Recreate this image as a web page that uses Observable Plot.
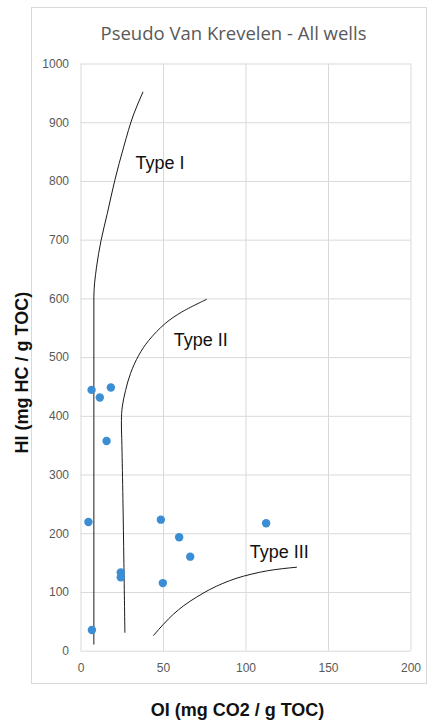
<!DOCTYPE html>
<html>
<head>
<meta charset="utf-8">
<script src="https://cdn.jsdelivr.net/npm/d3@7"></script>
<script src="https://cdn.jsdelivr.net/npm/@observablehq/plot@0.6"></script>
<style>
  html, body { margin: 0; padding: 0; background: #ffffff; }
  #chart { position: relative; width: 435px; height: 725px; overflow: hidden; font-family: "Liberation Sans", Arial, sans-serif; }
  #frame { position: absolute; left: 31px; top: 7px; width: 396px; height: 677px; border: 1px solid #d9d9d9; box-sizing: border-box; }
  #title { position: absolute; left: 31px; width: 396px; top: 20px; padding-left: 9px; box-sizing: border-box; text-align: center;
           font-family: "Open Sans", sans-serif; font-size: 18.5px; color: #595959; line-height: 26px; }
  #chart svg { position: absolute; left: 0; top: 0; }
</style>
</head>
<body>
<div id="chart">
  <div id="frame"></div>
  <div id="title">Pseudo Van Krevelen - All wells</div>
</div>
<script>
// Well samples: oxygen index (OI) and hydrogen index (HI)
const wellOI = [6.4, 11.4, 18.1, 15.5, 4.5, 48.4, 59.5, 66.2, 24.1, 24.1, 49.6, 6.6, 112.2];
const wellHI = [445, 432, 449, 358, 220, 224, 194, 161, 134, 126, 116, 36, 218];

// Kerogen type evolution paths
const typeIOI = [7.8, 7.8, 7.8, 9.4, 12.2, 15.9, 20.5, 25.9, 32.0, 37.5];
const typeIHI = [12, 400, 603, 654, 700, 745, 802, 859, 915, 952];
const typeIIOI = [26.6, 26.0, 25.4, 24.8, 24.5, 25.0, 27.0, 30.0, 35.0, 41.0, 51.0, 61.0, 76.0];
const typeIIHI = [32, 150, 260, 350, 393, 416, 444, 473, 504, 529, 558, 577.5, 599];
const typeIIIOI = [44, 50, 56, 62, 70, 78, 86, 94, 103, 113, 122, 130.6];
const typeIIIHI = [27, 46, 63, 77, 92, 105, 115.5, 124, 131, 137, 140.5, 143];

// Curve labels
const typeNames = ["Type I", "Type II", "Type III"];
const typeLabelOI = [33, 56.2, 102.3];
const typeLabelHI = [831, 529, 169];

// Axis ticks
const xTicks = [0, 50, 100, 150, 200];
const yTicks = [0, 100, 200, 300, 400, 500, 600, 700, 800, 900, 1000];

const wells = wellOI.map((oi, i) => ({oi, hi: wellHI[i]}));
const toPath = (xs, ys) => xs.map((oi, i) => ({oi, hi: ys[i]}));
const labels = typeNames.map((name, i) => ({name, oi: typeLabelOI[i], hi: typeLabelHI[i]}));

const curveStyle = {x: "oi", y: "hi", stroke: "#1a1a1a", strokeWidth: 1};

const plot = Plot.plot({
  width: 435,
  height: 725,
  marginLeft: 80.5,
  marginRight: 24.5,
  marginTop: 63.5,
  marginBottom: 74.3,
  style: {fontFamily: "Liberation Sans, Arial, sans-serif", background: "transparent", overflow: "visible"},
  x: {domain: [0, 200]},
  y: {domain: [0, 1000]},
  marks: [
    Plot.gridX(xTicks, {stroke: "#d9d9d9", strokeOpacity: 1}),
    Plot.gridY(yTicks, {stroke: "#d9d9d9", strokeOpacity: 1}),
    Plot.axisX(xTicks, {tickSize: 0, tickPadding: 12, label: null, tickFormat: d => String(d), fontSize: 12, fill: "#595959"}),
    Plot.axisY(yTicks, {tickSize: 0, tickPadding: 12, label: null, tickFormat: d => String(d), fontSize: 12, fill: "#595959"}),
    Plot.line(toPath(typeIOI, typeIHI), {...curveStyle, curve: "monotone-y"}),
    Plot.line(toPath(typeIIOI, typeIIHI), {...curveStyle, curve: "catmull-rom"}),
    Plot.line(toPath(typeIIIOI, typeIIIHI), {...curveStyle, curve: "monotone-x"}),
    Plot.dot(wells, {x: "oi", y: "hi", r: 4.2, fill: "#3b8ed3", stroke: "none"}),
    Plot.text(labels, {x: "oi", y: "hi", text: "name", textAnchor: "start", fontSize: 18, fill: "#111"}),
    Plot.text(["HI (mg HC / g TOC)"], {frameAnchor: "left", textAnchor: "middle", lineAnchor: "middle", dx: -59, dy: 15, rotate: -90, fontSize: 18, fontWeight: "bold", fill: "#111"}),
    Plot.text(["OI (mg CO2 / g TOC)"], {frameAnchor: "bottom", textAnchor: "middle", lineAnchor: "middle", dx: -8.5, dy: 59, fontSize: 18, fontWeight: "bold", fill: "#111"})
  ]
});

document.getElementById("chart").appendChild(plot);
</script>
</body>
</html>
